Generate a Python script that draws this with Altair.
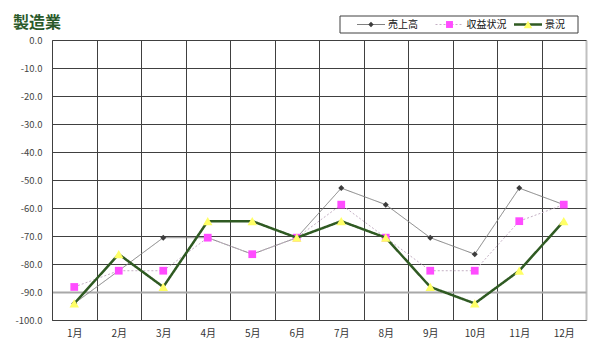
import altair as alt
import pandas as pd

months = ["1月", "2月", "3月", "4月", "5月", "6月", "7月", "8月", "9月", "10月", "11月", "12月"]
series_names = ["売上高", "収益状況", "景況"]
sales = [-94.1, -82.4, -70.6, -70.6, -76.5, -70.6, -52.9, -58.8, -70.6, -76.5, -52.9, -58.8]
profit = [-88.2, -82.4, -82.4, -70.6, -76.5, -70.6, -58.8, -70.6, -82.4, -82.4, -64.7, -58.8]
business = [-94.1, -76.5, -88.2, -64.7, -64.7, -70.6, -64.7, -70.6, -88.2, -94.1, -82.4, -64.7]
y_ticks = [0, -10, -20, -30, -40, -50, -60, -70, -80, -90, -100]
title_text = "製造業"

line_colors = ["#808080", "#c4b0c4", "#2f5a22"]
marker_fill = ["#3c3c3c", "#ff4cff", "#ffff66"]
marker_shapes = ["diamond", "square", "triangle-up"]
marker_sizes = [36, 60, 90]
line_widths = [1, 1, 2.5]
dashes = [[1, 0], [2, 2], [1, 0]]

FONT = "Noto Sans CJK JP"

rows = []
for name, vals in zip(series_names, [sales, profit, business]):
    for m, v in zip(months, vals):
        rows.append({"month": m, "series": name, "value": v})
df = pd.DataFrame(rows)

edge_test = "datum.value === '12月'"
x = alt.X(
    "month:N",
    sort=months,
    scale=alt.Scale(type="band", domain=months, paddingInner=0, paddingOuter=0),
    axis=alt.Axis(
        title=None, tickBand="extent", ticks=False, labelAngle=0, labelPadding=8,
        grid=True,
        gridColor={"condition": {"test": edge_test, "value": "#c0c0c0"}, "value": "#404040"},
        gridWidth={"condition": {"test": edge_test, "value": 2}, "value": 1},
        domainColor="#404040",
        labelFontSize=10, labelColor="#333333", labelFont=FONT,
    ),
)
y = alt.Y(
    "value:Q",
    scale=alt.Scale(domain=[-100, 0], nice=False, zero=False),
    axis=alt.Axis(
        title=None, values=y_ticks, ticks=False, labelPadding=10,
        labelExpr="replace(format(datum.value, '.1f'), '\u2212', '-')",
        grid=True,
        gridColor={"condition": {"test": "datum.value === -90", "value": "#a8a8a8"}, "value": "#404040"},
        gridWidth={"condition": {"test": "datum.value === -90", "value": 2}, "value": 1},
        domainColor="#404040", labelFontSize=9.5, labelColor="#444444", labelFont=FONT,
    ),
)

main_layers = []
for i, name in enumerate(series_names):
    base = alt.Chart(df).transform_filter(alt.datum.series == name)
    main_layers.append(
        base.mark_line(color=line_colors[i], strokeWidth=line_widths[i], strokeDash=dashes[i]).encode(x=x, y=y)
    )
    main_layers.append(
        base.mark_point(shape=marker_shapes[i], filled=True, color=marker_fill[i],
                        size=marker_sizes[i], opacity=1).encode(x=x, y=y)
    )
main = alt.layer(*main_layers)

leg_df = pd.DataFrame({"series": series_names})
lx = alt.X("series:N", scale=alt.Scale(type="point", domain=series_names, range=[319, 476], padding=0), axis=None)
LY = -15.5

legend_layers = [
    alt.Chart(pd.DataFrame({"k": [0]})).mark_rect(fill="white", stroke="#404040", strokeWidth=1).encode(
        x=alt.value(288), x2=alt.value(526), y=alt.value(-24), y2=alt.value(-7)
    ),
    alt.Chart(pd.DataFrame({"t": [title_text]})).mark_text(
        align="left", baseline="middle", fontSize=16, fontWeight="bold", color="#2a5a2a", font=FONT
    ).encode(x=alt.value(-39), y=alt.value(-17.5), text="t:N"),
]
for i, name in enumerate(series_names):
    lb = alt.Chart(leg_df).transform_filter(alt.datum.series == name)
    legend_layers.append(
        lb.mark_point(shape="M-1,0L1,0", size=784, filled=False, stroke=line_colors[i],
                      strokeWidth=line_widths[i], strokeDash=dashes[i], opacity=1).encode(x=lx, y=alt.value(LY))
    )
    legend_layers.append(
        lb.mark_point(shape=marker_shapes[i], filled=True, color=marker_fill[i],
                      size=marker_sizes[i] * 0.8, opacity=1).encode(x=lx, y=alt.value(LY))
    )
    legend_layers.append(
        lb.mark_text(align="left", baseline="middle", dx=17, fontSize=10, color="#111111", font=FONT).encode(
            x=lx, y=alt.value(LY), text="series:N"
        )
    )
legend = alt.layer(*legend_layers)

chart = (
    alt.layer(main, legend)
    .resolve_scale(x="independent")
    .properties(
        width=534, height=280,
        padding={"left": 44, "top": 32, "right": 6, "bottom": 25},
        autosize=alt.AutoSizeParams(type="none"),
        background="white",
    )
    .configure_view(stroke=None)
)

chart.save("out.html", embed_options={"renderer": "svg", "actions": False})
